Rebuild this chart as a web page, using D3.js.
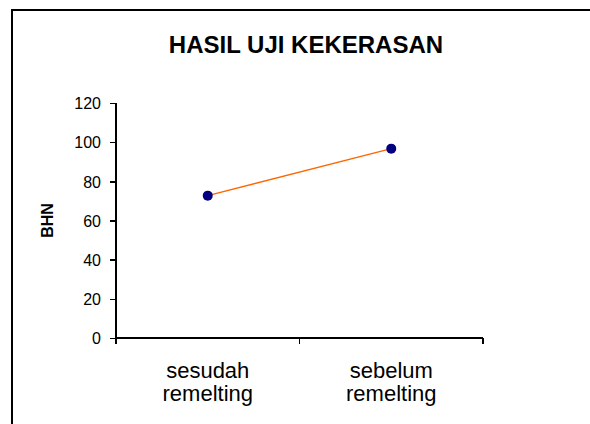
<!DOCTYPE html>
<html>
  <head>
    <meta charset="utf-8">
    <script src="https://d3js.org/d3.v7.min.js"></script>
    <style>
     body { margin: 0; background: #fff; }
     svg text { font-family: "Liberation Sans", Arial, sans-serif; fill: #000; }
     .axis path, .axis line { stroke: #000; stroke-width: 1.5; shape-rendering: crispEdges; }
    </style>
  </head>
  <body>
    <svg id="chart"></svg>
    <script>
     // data
     var categories = [["sesudah", "remelting"], ["sebelum", "remelting"]];
     var hardness = [72.7, 96.7];
     var yTicks = [0, 20, 40, 60, 80, 100, 120];
     var chartTitle = "HASIL UJI KEKERASAN";
     var yTitle = "BHN";

     var W = 590, H = 424;
     var margin = {top: 103, right: 107, bottom: 86, left: 116}
       , width = W - margin.left - margin.right
       , height = H - margin.top - margin.bottom;

     var svg = d3.select("#chart").attr("width", W).attr("height", H);

     // outer frame, runs off right and bottom edge like the source
     svg.append("rect")
	.attr("x", 12).attr("y", 10)
	.attr("width", 700).attr("height", 600)
	.style("fill", "none").style("stroke", "#000").style("stroke-width", 2);

     svg.append("text")
	.attr("x", 306).attr("y", 53)
	.style("text-anchor", "middle")
	.style("font-size", "24px").style("font-weight", "bold")
	.text(chartTitle);

     var g = svg.append("g")
		.attr("transform", "translate(" + margin.left + "," + margin.top + ")");

     var xScale = d3.scaleBand()
		    .domain(d3.range(categories.length))
		    .range([0, width]);
     var yScale = d3.scaleLinear()
		    .domain([0, 120])
		    .range([height, 0]);

     var yAxis = g.append("g")
		  .attr("class", "y axis")
		  .call(d3.axisLeft(yScale).tickValues(yTicks).tickSize(6).tickPadding(9));
     yAxis.select(".domain").attr("d", "M0," + height + "V0");
     yAxis.selectAll("text").style("font-size", "16px").attr("dy", "0.36em");

     // x axis: ticks at band edges, labels centred in bands
     var xAxis = g.append("g")
		  .attr("class", "x axis")
		  .attr("transform", "translate(0," + height + ")");
     xAxis.append("path").attr("d", "M0,0H" + width);
     xAxis.selectAll(".tk")
	  .data(d3.range(categories.length + 1))
	  .enter().append("line")
	  .attr("x1", function(d) { return d * xScale.bandwidth(); })
	  .attr("x2", function(d) { return d * xScale.bandwidth(); })
	  .attr("y1", 0).attr("y2", 6);
     var lbl = xAxis.selectAll(".lbl")
		    .data(categories)
		    .enter().append("text")
		    .attr("transform", function(d, i) { return "translate(" + (xScale(i) + xScale.bandwidth() / 2) + ",0)"; })
		    .style("text-anchor", "middle")
		    .style("font-size", "22px");
     lbl.selectAll("tspan")
	.data(function(d) { return d; })
	.enter().append("tspan")
	.attr("x", 0)
	.attr("y", function(d, i) { return 40 + i * 23; })
	.text(function(d) { return d; });

     svg.append("text")
	.attr("transform", "translate(53," + (margin.top + height / 2) + ") rotate(-90)")
	.style("text-anchor", "middle")
	.style("font-size", "16px").style("font-weight", "bold")
	.text(yTitle);

     var line = d3.line()
		  .x(function(d, i) { return xScale(i) + xScale.bandwidth() / 2; })
		  .y(function(d) { return yScale(d); });

     g.append("path")
      .datum(hardness)
      .attr("d", line)
      .style("fill", "none")
      .style("stroke", "#ff6600")
      .style("stroke-width", 1.5);

     g.selectAll(".pt")
      .data(hardness)
      .enter().append("circle")
      .attr("cx", function(d, i) { return xScale(i) + xScale.bandwidth() / 2; })
      .attr("cy", function(d) { return yScale(d); })
      .attr("r", 5)
      .style("fill", "#000080");
    </script>
  </body>
</html>
